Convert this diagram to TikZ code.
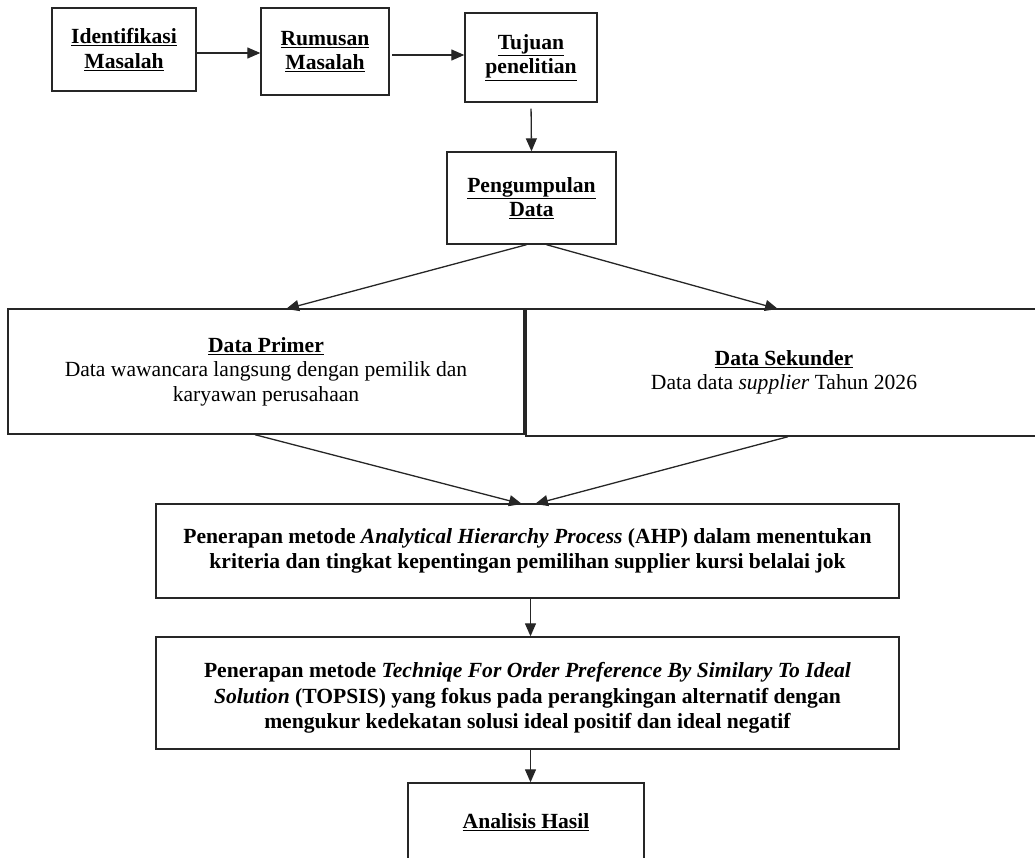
\documentclass[tikz,border=0pt]{standalone}
\usepackage{fontspec}
\setmainfont{Liberation Serif}
\usetikzlibrary{arrows.meta}
\tikzset{
  box/.style={draw=black!85, line width=1.4pt, inner sep=0pt, align=center,
    font=\fontsize{21.6}{24.5}\selectfont},
  txt/.style={inner sep=0pt, align=center, font=\fontsize{21.6}{25.5}\selectfont},
  arr/.style={draw=black!85, line width=1.3pt, -{Triangle[length=13pt,width=11pt]}},
}
\newcommand{\ubf}[1]{\underline{\textbf{#1}}}
\begin{document}
\begin{tikzpicture}[x=1pt,y=-1pt]
\useasboundingbox (0,0) rectangle (1035,857);
\node[box, minimum width=144pt, minimum height=83pt] (idm) at (124,49.5) {\ubf{Identifikasi}\\\ubf{Masalah}};
\node[box, minimum width=128pt, minimum height=87pt] (rum) at (325,51.5) {\ubf{Rumusan}\\\ubf{Masalah}};
\node[box, minimum width=132pt, minimum height=89pt] (tuj) at (531,57.5) {\ubf{Tujuan}\\\ubf{penelitian}};
\node[box, minimum width=169pt, minimum height=92pt] (peng) at (531.5,198) {\ubf{Pengumpulan}\\\ubf{Data}};
\node[box, minimum width=516pt, minimum height=125pt] (prim) at (266,371.5) {\ubf{Data Primer}\\Data wawancara langsung dengan pemilik dan\\karyawan perusahaan};
\node[box, minimum width=516pt, minimum height=127pt] (sek) at (784,372.5) {\ubf{Data Sekunder}\\Data data \textit{supplier} Tahun 2026};
\node[box, minimum width=743pt, minimum height=94pt] (ahp) at (527.5,551) {\textbf{Penerapan metode \textit{Analytical Hierarchy Process} (AHP) dalam menentukan}\\\textbf{kriteria dan tingkat kepentingan pemilihan supplier kursi belalai jok}};
\node[box, minimum width=743pt, minimum height=112pt] (top) at (527.5,693) {};
\node[txt] (toptxt) at (527.5,698) {\textbf{Penerapan metode \textit{Techniqe For Order Preference By Similary To Ideal}}\\\textbf{\textit{Solution} (TOPSIS) yang fokus pada perangkingan alternatif dengan}\\\textbf{mengukur kedekatan solusi ideal positif dan ideal negatif}};
\node[box, minimum width=236pt, minimum height=78pt] (ana) at (526,822) {\ubf{Analisis Hasil}};
\coordinate (a1) at (196,53);
\coordinate (a2) at (392,55);
\draw[arr] (a1) -- (a1 -| rum.west);
\draw[arr] (a2) -- (a2 -| tuj.west);
\draw[arr, shorten <=6pt] (tuj.south) -- (peng.north);
\draw[arr] ([xshift=-5pt]peng.south) -- (286,309) coordinate (p1);
\draw[arr] ([xshift=15pt]peng.south) -- (778,309) coordinate (p2);
\draw[arr] ([xshift=-11pt]prim.south) -- (522,504) coordinate (p3);
\draw[arr] ([xshift=4pt]sek.south) -- (535,504) coordinate (p4);
\draw[arr] ([xshift=3pt]ahp.south) -- ([xshift=3pt]ahp.south |- top.north);
\draw[arr] ([xshift=3pt]top.south) -- ([xshift=3pt]top.south |- ana.north);
\end{tikzpicture}
\end{document}
